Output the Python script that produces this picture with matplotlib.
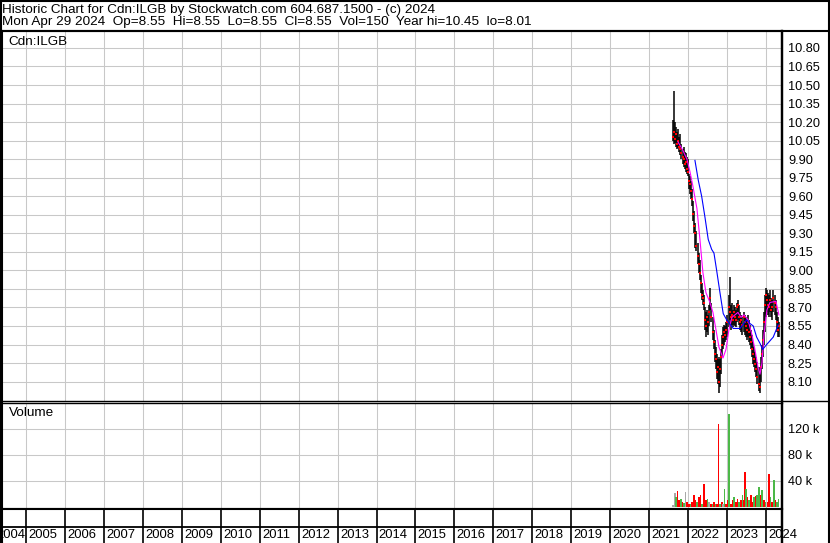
import matplotlib
matplotlib.use('Agg')
import matplotlib.pyplot as plt
from matplotlib.lines import Line2D
import numpy as np

plt.rcParams['font.family'] = ['Liberation Sans', 'DejaVu Sans']

TITLE = 'Historic Chart for Cdn:ILGB by Stockwatch.com 604.687.1500 - (c) 2024'
SUBTITLE = ('Mon Apr 29 2024  Op=8.55  Hi=8.55  Lo=8.55  Cl=8.55  Vol=150  '
            'Year hi=10.45  lo=8.01')
SYMBOL = 'Cdn:ILGB'

# price bars, roughly every ten days from Aug 2021 to Apr 29 2024
hi = [10.22, 10.45, 10.20, 10.16, 10.12, 10.14, 10.08, 10.10, 10.02, 9.98,
      10.00, 9.96, 9.95, 9.92, 9.90, 9.78, 9.76, 9.72, 9.66, 9.56,
      9.48, 9.38, 9.32, 9.22, 9.14, 9.08, 8.96, 8.90, 8.84, 8.80,
      8.70, 8.66, 8.68, 8.64, 8.72, 8.86, 8.74, 8.62, 8.52, 8.44,
      8.38, 8.32, 8.28, 8.30, 8.28, 8.36, 8.48, 8.54, 8.56, 8.55,
      8.58, 8.64, 8.80, 8.95, 8.72, 8.74, 8.68, 8.72, 8.70, 8.68,
      8.74, 8.76, 8.72, 8.66, 8.64, 8.62, 8.66, 8.64, 8.62, 8.60,
      8.64, 8.60, 8.56, 8.52, 8.48, 8.42, 8.38, 8.34, 8.30, 8.26,
      8.22, 8.18, 8.30, 8.40, 8.52, 8.66, 8.80, 8.86, 8.84, 8.82,
      8.80, 8.84, 8.78, 8.76, 8.84, 8.80, 8.76, 8.66, 8.62, 8.58]
lo = [10.05, 10.02, 10.03, 10.00, 9.98, 9.99, 9.96, 9.93, 9.90, 9.86,
      9.84, 9.82, 9.80, 9.78, 9.76, 9.66, 9.62, 9.58, 9.52, 9.40,
      9.30, 9.18, 9.16, 9.05, 8.98, 8.92, 8.82, 8.76, 8.72, 8.68,
      8.52, 8.46, 8.50, 8.48, 8.55, 8.68, 8.58, 8.44, 8.36, 8.26,
      8.20, 8.12, 8.08, 8.01, 8.06, 8.16, 8.30, 8.36, 8.40, 8.42,
      8.44, 8.46, 8.54, 8.60, 8.52, 8.56, 8.54, 8.56, 8.55, 8.54,
      8.58, 8.60, 8.56, 8.52, 8.50, 8.48, 8.50, 8.48, 8.46, 8.44,
      8.46, 8.42, 8.40, 8.36, 8.30, 8.24, 8.22, 8.18, 8.14, 8.08,
      8.02, 8.01, 8.10, 8.20, 8.30, 8.40, 8.50, 8.62, 8.66, 8.64,
      8.62, 8.66, 8.62, 8.60, 8.66, 8.64, 8.60, 8.50, 8.46, 8.46]
cl = [10.08, 10.12, 10.06, 10.10, 10.02, 10.05, 10.00, 9.98, 9.95, 9.92,
      9.90, 9.86, 9.88, 9.82, 9.80, 9.72, 9.70, 9.64, 9.58, 9.46,
      9.36, 9.30, 9.20, 9.12, 9.05, 8.98, 8.90, 8.80, 8.78, 8.74,
      8.60, 8.55, 8.62, 8.58, 8.66, 8.78, 8.62, 8.50, 8.42, 8.32,
      8.28, 8.18, 8.22, 8.10, 8.20, 8.30, 8.40, 8.46, 8.50, 8.48,
      8.52, 8.58, 8.70, 8.66, 8.62, 8.64, 8.60, 8.66, 8.62, 8.60,
      8.70, 8.72, 8.62, 8.58, 8.60, 8.56, 8.62, 8.58, 8.55, 8.52,
      8.58, 8.50, 8.46, 8.42, 8.36, 8.32, 8.28, 8.24, 8.20, 8.14,
      8.08, 8.06, 8.22, 8.32, 8.44, 8.58, 8.72, 8.80, 8.76, 8.72,
      8.70, 8.76, 8.68, 8.70, 8.78, 8.74, 8.70, 8.58, 8.52, 8.55]
bar_t = np.linspace(2021.61, 2024.33, len(hi))

# short (magenta) and long (blue) moving averages
ma_fast_t = [2021.739, 2021.868, 2021.970, 2022.047, 2022.124, 2022.227, 2022.304,
             2022.381, 2022.458, 2022.561, 2022.638, 2022.715, 2022.792, 2022.895,
             2022.972, 2023.049, 2023.126, 2023.280, 2023.357, 2023.434, 2023.537,
             2023.639, 2023.716, 2023.793, 2023.845, 2023.896, 2023.948, 2024.025,
             2024.102, 2024.255, 2024.332]
ma_fast = [10.04, 9.97, 9.90, 9.80, 9.68, 9.50, 9.25,
           8.98, 8.82, 8.74, 8.66, 8.52, 8.38, 8.29,
           8.36, 8.52, 8.62, 8.66, 8.62, 8.64, 8.60,
           8.48, 8.36, 8.22, 8.16, 8.25, 8.48, 8.68,
           8.74, 8.75, 8.64]
ma_slow_t = [2022.176, 2022.261, 2022.348, 2022.433, 2022.517, 2022.605, 2022.664,
             2022.733, 2022.818, 2022.902, 2022.990, 2023.159, 2023.331, 2023.503,
             2023.588, 2023.673, 2023.760, 2023.845, 2023.914, 2024.017, 2024.186,
             2024.314]
ma_slow = [9.89, 9.73, 9.60, 9.43, 9.25, 9.17, 9.14,
           9.00, 8.82, 8.65, 8.60, 8.53, 8.53, 8.60,
           8.57, 8.55, 8.46, 8.41, 8.36, 8.40, 8.46,
           8.56]

vol_t = [2021.619, 2021.662, 2021.688, 2021.732, 2021.773, 2021.816, 2021.860, 2021.893,
         2021.937, 2021.978, 2022.022, 2022.065, 2022.106, 2022.150, 2022.194, 2022.235,
         2022.279, 2022.322, 2022.363, 2022.414, 2022.458, 2022.502, 2022.543, 2022.587,
         2022.630, 2022.671, 2022.715, 2022.748, 2022.784, 2022.825, 2022.869, 2022.902,
         2022.938, 2022.979, 2023.023, 2023.056, 2023.100, 2023.144, 2023.185, 2023.228,
         2023.272, 2023.313, 2023.357, 2023.400, 2023.434, 2023.459, 2023.493, 2023.529,
         2023.570, 2023.614, 2023.657, 2023.698, 2023.742, 2023.775, 2023.827, 2023.863,
         2023.904, 2023.948, 2023.991, 2024.042, 2024.076, 2024.119, 2024.160, 2024.204,
         2024.247, 2024.289, 2024.325]
vol = [3, 22, 16, 25, 11, 13, 8, 6, 23, 8, 4, 5, 7, 18, 11, 8,
       16, 18, 5, 35, 11, 13, 8, 4, 5, 8, 4, 5, 128, 4, 8, 5,
       27, 5, 11, 143, 5, 11, 16, 8, 12, 8, 11, 18, 11, 54, 27, 16,
       11, 18, 8, 16, 17, 18, 31, 18, 26, 11, 8, 8, 51, 16, 8, 41.5,
       11, 8, 12]
# u = up day, d = down day, f = unchanged
vol_dir = ('ffuddudufddudddudd'
           'uddufdududdudfuddu'
           'dduddududdududdudu'
           'udududdududuu')

years = list(range(2004, 2025))

W, H = 830, 543
def box(x0, y0, x1, y1):
    return [x0 / W, 1 - y1 / H, (x1 - x0) / W, (y1 - y0) / H]

def fline(x0, y0, x1, y1, lw=1.5):
    fig.add_artist(Line2D([x0 / W, x1 / W], [1 - y0 / H, 1 - y1 / H],
                          color='black', lw=lw, transform=fig.transFigure))

XLIM = (2004.384, 2024.411)
GRID = '#c8c8c8'
FS = 9.4

fig = plt.figure(figsize=(W / 100, H / 100), dpi=100)
fig.patch.set_facecolor('white')

# price panel
ax_p = fig.add_axes(box(2, 31, 782, 401))
ax_p.vlines(bar_t, lo, hi, color='black', lw=1.1, zorder=3)
ax_p.plot(bar_t, cl, 's', color='red', ms=1.8, mew=0, zorder=4)
ax_p.plot(ma_fast_t, ma_fast, color='#ff00ff', lw=0.8, zorder=5)
ax_p.plot(ma_slow_t, ma_slow, color='#0000ff', lw=0.8, zorder=5)
ax_p.set_xlim(*XLIM)
ax_p.set_ylim(7.943, 10.937)
price_ticks = np.round(np.arange(8.10, 10.81, 0.15), 2)
ax_p.set_yticks(price_ticks)
ax_p.set_yticklabels(['%.2f' % t for t in price_ticks])
ax_p.yaxis.tick_right()
ax_p.set_xticks(years[1:])
ax_p.tick_params(axis='x', length=0, labelbottom=False)
ax_p.tick_params(axis='y', length=0, pad=4.3, labelsize=9.2)
ax_p.grid(True, color=GRID, lw=0.75)
ax_p.set_axisbelow(True)

# volume panel
ax_v = fig.add_axes(box(2, 403, 782, 509))
vcol = {'u': '#4cb848', 'd': '#ff0000', 'f': '#a8a8a8'}
ax_v.bar(vol_t, np.array(vol) * 1000, width=0.042,
         color=[vcol[c] for c in vol_dir], linewidth=0, zorder=3)
ax_v.set_xlim(*XLIM)
ax_v.set_ylim(-3077, 160000)
ax_v.set_yticks([40000, 80000, 120000])
ax_v.set_yticklabels(['40 k', '80 k', '120 k'])
ax_v.yaxis.tick_right()
ax_v.set_xticks(years[1:])
ax_v.tick_params(axis='x', length=0, labelbottom=False)
ax_v.tick_params(axis='y', length=0, pad=4.3, labelsize=9.2)
ax_v.grid(True, color=GRID, lw=0.75)
ax_v.set_axisbelow(True)

# year strip under the volume panel
ax_s = fig.add_axes(box(2, 509, 782, 543))
ax_s.set_xlim(*XLIM)
ax_s.set_ylim(34, 0)
ax_s.set_xticks([])
ax_s.set_yticks([])
ax_s.vlines(years[1:], 0, 34, color='black', lw=1.2)
ax_s.axhline(18, color='black', lw=1.3)
for y in years[1:]:
    ax_s.text(y + 0.06, 26.5, str(y), ha='left', va='center', fontsize=FS,
              clip_on=False)
ax_s.text(years[1] - 0.02, 26.5, str(years[0]), ha='right', va='center',
          fontsize=FS, clip_on=False)

for ax in (ax_p, ax_v, ax_s):
    for s in ax.spines.values():
        s.set_color('black')
        s.set_linewidth(1.5)
ax_p.spines['bottom'].set_linewidth(1.0)
ax_v.spines['top'].set_linewidth(1.0)
ax_s.spines['bottom'].set_visible(False)

# frame, header line and right separators
fline(1, 0, 1, 543)
fline(0, 0.7, 830, 0.7)
fline(829, 0, 829, 543)
fline(0, 30.7, 830, 30.7)
fline(782, 31, 782, 543, lw=1.7)
fline(782, 401, 830, 401, lw=1.0)

fig.text(2 / W, 1 - 9.5 / H, TITLE, fontsize=9.7, va='center', ha='left')
fig.text(2 / W, 1 - 22.5 / H, SUBTITLE, fontsize=9.7, va='center', ha='left')
fig.text(8 / W, 1 - 42 / H, SYMBOL, fontsize=9.7, va='center', ha='left')
fig.text(9 / W, 1 - 413 / H, 'Volume', fontsize=9.7, va='center', ha='left')

fig.savefig('out.png', dpi=100)
